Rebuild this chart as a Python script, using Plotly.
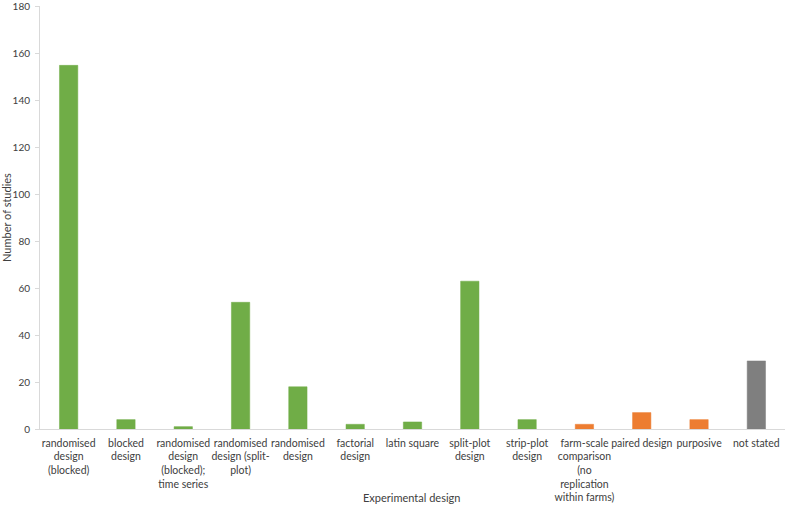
import plotly.graph_objects as go

categories = [
    "randomised<br>design<br>(blocked)",
    "blocked<br>design",
    "randomised<br>design<br>(blocked);<br>time series",
    "randomised<br>design (split-<br>plot)",
    "randomised<br>design",
    "factorial<br>design",
    "latin square",
    "split-plot<br>design",
    "strip-plot<br>design",
    "farm-scale<br>comparison<br>(no<br>replication<br>within farms)",
    "paired design",
    "purposive",
    "not stated",
]
values = [155, 4, 1, 54, 18, 2, 3, 63, 4, 2, 7, 4, 29]
groups = ["g", "g", "g", "g", "g", "g", "g", "g", "g", "o", "o", "o", "n"]
palette = {"g": "#70AD47", "o": "#ED7D31", "n": "#7F7F7F"}
y_ticks = [0, 20, 40, 60, 80, 100, 120, 140, 160, 180]

font_family = "Lato, 'Open Sans', sans-serif"
txt = "#404040"

fig = go.Figure(
    go.Bar(
        x=list(range(len(categories))),
        y=values,
        marker=dict(color=[palette[g] for g in groups],
                    line=dict(color=[palette[g] for g in groups], width=0.5)),
        width=0.32,
    )
)

fig.update_layout(
    width=785, height=514,
    margin=dict(l=40, r=0, t=6, b=85),
    plot_bgcolor="white", paper_bgcolor="white",
    showlegend=False,
    font=dict(family=font_family, size=10.5, color=txt),
)
fig.update_xaxes(
    tickmode="array",
    tickvals=list(range(len(categories))),
    ticktext=categories,
    range=[-0.5, len(categories) - 0.5],
    showline=True, linecolor="#D9D9D9", linewidth=1,
    ticks="", showgrid=False, zeroline=False,
    tickangle=0,
    tickfont=dict(size=10.5, color=txt),
    ticklabelstandoff=4,
    automargin=False,
)
fig.update_yaxes(
    range=[0, 180.3],
    tickmode="array", tickvals=y_ticks,
    showline=True, linecolor="#D9D9D9", linewidth=1,
    ticks="outside", ticklen=4, tickcolor="#D9D9D9",
    showgrid=False, zeroline=False,
    tickfont=dict(size=10, color=txt),
    ticklabelstandoff=3,
    automargin=False,
)
fig.add_annotation(text="Experimental design", xref="paper", yref="paper",
                   x=0.498, y=-0.162, yanchor="middle", xanchor="center",
                   showarrow=False, font=dict(size=11, color=txt))
fig.add_annotation(text="Number of studies", xref="paper", yref="paper",
                   x=-0.045, y=0.5, xanchor="center", yanchor="middle",
                   textangle=-90, showarrow=False,
                   font=dict(size=11, color=txt))

fig.write_html("out.html",
               config={"displayModeBar": False},
               post_script="document.body.style.margin='0';document.body.style.padding='0';")
